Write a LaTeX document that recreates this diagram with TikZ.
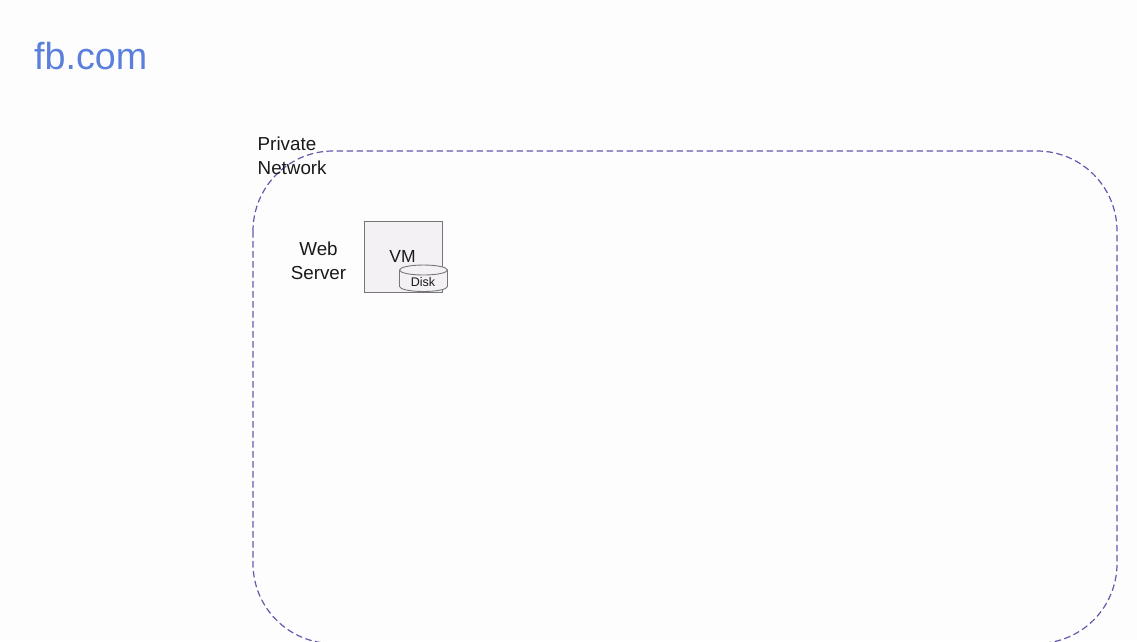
\documentclass[tikz,border=0pt]{standalone}
\usepackage{fontspec}
\setmainfont{Liberation Sans}
\definecolor{pagebg}{HTML}{FEFDFE}
\definecolor{titleblue}{HTML}{5B80DC}
\definecolor{dashpurple}{HTML}{6458AA}
\definecolor{vmfill}{HTML}{F3F1F4}
\definecolor{edgegray}{HTML}{77757A}
\definecolor{inktext}{HTML}{1A1A1A}
\tikzset{
  x=1pt,y=-1pt,
  label text/.style={inner sep=0pt,text=inktext,font=\fontsize{18.8}{23.5}\selectfont,align=center},
  network/.style={draw=dashpurple,line width=1.2pt,dash pattern=on 6.5pt off 3.5pt,rounded corners=80pt},
  vmbox/.style={draw=edgegray,fill=vmfill,line width=0.9pt},
  diskpart/.style={draw=edgegray,fill=vmfill,line width=0.9pt},
}
\begin{document}
\begin{tikzpicture}
\useasboundingbox (0,0) rectangle (1137,641);
\fill[pagebg] (0,0) rectangle (1137,641);
\clip (0,0) rectangle (1137,641);
\node[inner sep=0pt,anchor=base west,text=titleblue,font=\fontsize{37.7}{40}\selectfont] (title) at (34,69) {fb.com};
\draw[network] (253,151) rectangle (1117,643.5);
\node[label text,align=left,anchor=north west] (pn) at (257.5,137) {Private\\Network};
\node[label text] (web) at (318.5,261) {Web\\Server};
\node[vmbox,minimum width=78pt,minimum height=71pt,inner sep=0pt,anchor=north west] (vm) at (363.5,220.5) {};
\node[inner sep=0pt,text=inktext,font=\fontsize{17.5}{20}\selectfont,anchor=base] (vmlabel) at (402.5,262) {VM};
\path[diskpart] (399.5,270) -- (399.5,286.5) arc[start angle=180,end angle=360,x radius=24pt,y radius=5pt] -- (447.5,270) arc[start angle=0,end angle=180,x radius=24pt,y radius=5pt];
\draw[diskpart,fill=none] (399.5,270) arc[start angle=180,end angle=360,x radius=24pt,y radius=5pt];
\node[inner sep=0pt,text=inktext,font=\fontsize{12.5}{14}\selectfont,anchor=base] (disk) at (423,286) {Disk};
\end{tikzpicture}
\end{document}
